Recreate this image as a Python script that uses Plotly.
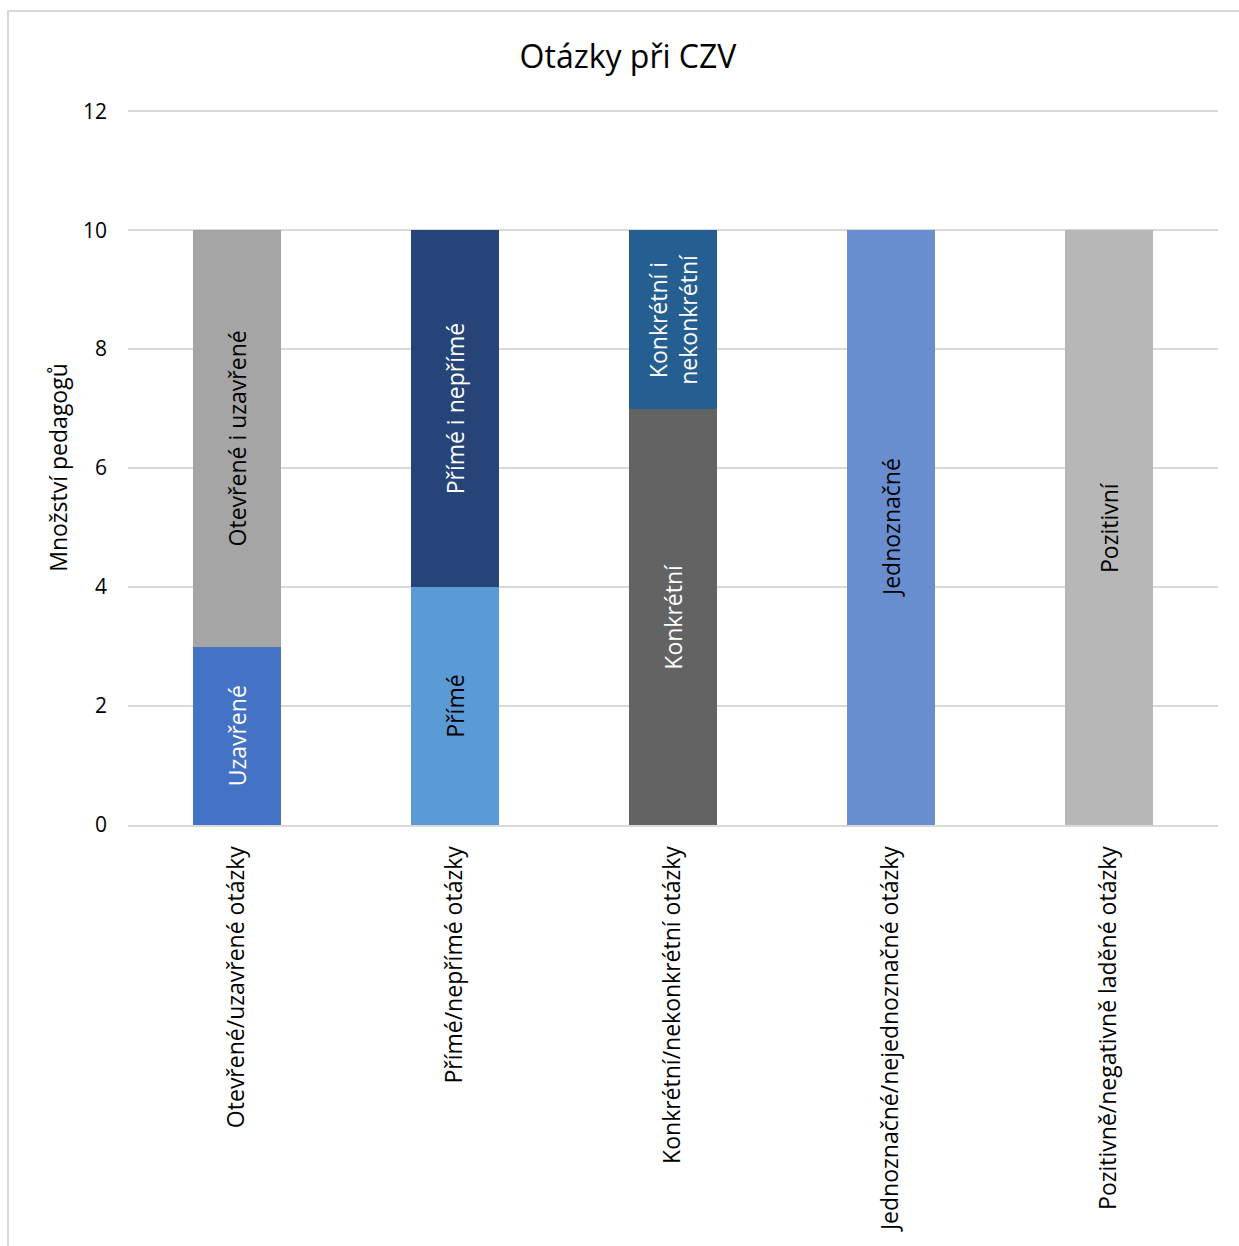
import plotly.graph_objects as go

categories = [
    "Otevřené/uzavřené otázky",
    "Přímé/nepřímé otázky",
    "Konkrétní/nekonkrétní otázky",
    "Jednoznačné/nejednoznačné otázky",
    "Pozitivně/negativně laděné otázky",
]
segment_labels = [
    "Uzavřené", "Otevřené i uzavřené",
    "Přímé", "Přímé i nepřímé",
    "Konkrétní", "Konkrétní i<br>nekonkrétní",
    "Jednoznačné",
    "Pozitivní",
]
segment_category = [0, 0, 1, 1, 2, 2, 3, 4]
segment_values = [3, 7, 4, 6, 7, 3, 10, 10]
segment_colors = ["#4472C4", "#A5A5A5", "#5B9BD5", "#264478",
                  "#636363", "#255E91", "#698ED0", "#B7B7B7"]
text_colors = ["white", "black", "black", "white",
               "white", "white", "black", "black"]
y_ticks = [0, 2, 4, 6, 8, 10, 12]

FONT = "Open Sans"
fig = go.Figure()
for lab, ci, v, col, tc in zip(segment_labels, segment_category, segment_values,
                               segment_colors, text_colors):
    fig.add_trace(go.Bar(
        x=[categories[ci]], y=[v], name=lab.replace("<br>", " "),
        marker=dict(color=col, line=dict(width=0)),
        text=[lab], textposition="inside", insidetextanchor="middle",
        textangle=-90, constraintext="none",
        textfont=dict(color=tc, size=23, family=FONT),
        showlegend=False, hoverinfo="skip",
    ))

fig.update_layout(
    barmode="stack", bargap=0.6,
    width=1239, height=1246,
    margin=dict(l=128, r=21, t=110, b=421),
    paper_bgcolor="white", plot_bgcolor="white",
    font=dict(family=FONT, color="#000000"),
    title=dict(text="Otázky při CZV", x=628 / 1239, xanchor="center",
               y=1 - 57 / 1246, yanchor="middle", xref="container", yref="container",
               font=dict(size=32, family=FONT, color="#000000")),
    xaxis=dict(categoryorder="array", categoryarray=categories,
               tickangle=-90, tickfont=dict(size=23, family=FONT, color="#000000"),
               showline=True, linecolor="#D9D9D9", linewidth=2,
               ticks="", ticklabelstandoff=10, showgrid=False),
    yaxis=dict(range=[0, 12.02], tickvals=y_ticks, showgrid=True, gridcolor="#D9D9D9",
               gridwidth=2, zeroline=False, showline=False,
               tickfont=dict(size=21, family=FONT, color="#000000"),
               ticks="", ticklabelstandoff=20,
               title=dict(text="Množství pedagogů", standoff=8,
                          font=dict(size=23, family=FONT, color="#000000"))),
    shapes=[dict(type="rect", xref="paper", yref="paper",
                 x0=(8 - 128) / 1090, x1=(1245 - 128) / 1090,
                 y0=(825 - 1250) / 715, y1=(825 - 11) / 715,
                 line=dict(color="#D9D9D9", width=2), fillcolor="rgba(0,0,0,0)",
                 layer="below")],
)
fig.write_html("out.html")
